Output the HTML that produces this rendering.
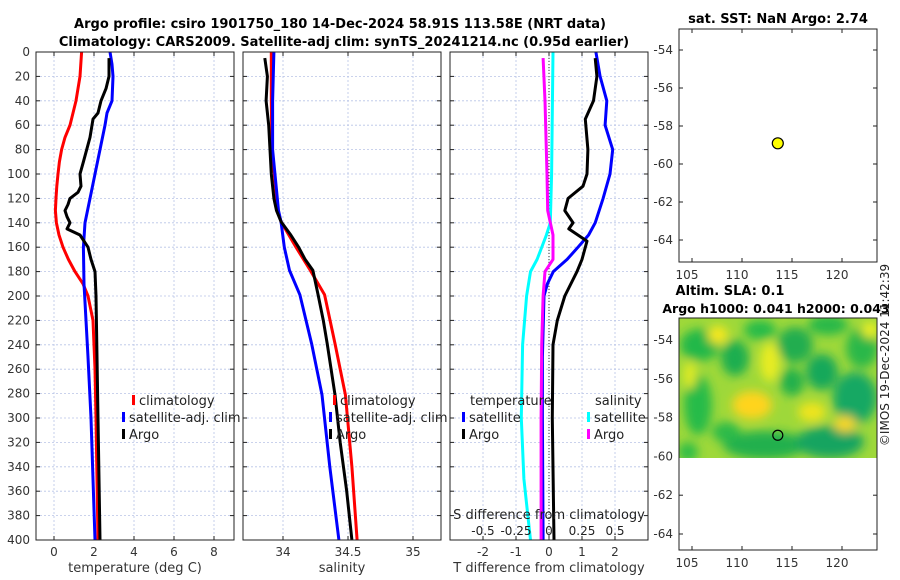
<!DOCTYPE html>
<html><head><meta charset="utf-8">
<style>
html,body{margin:0;padding:0;background:#fff;}
svg{display:block;font-family:"DejaVu Sans","Liberation Sans",sans-serif;}
</style></head>
<body>
<svg id="chart" width="900" height="580" viewBox="0 0 900 580" xmlns="http://www.w3.org/2000/svg">
<defs>
<filter id="blur" x="-20%" y="-20%" width="140%" height="140%"><feGaussianBlur stdDeviation="5"/></filter>
<clipPath id="mapclip"><rect x="679" y="318" width="198" height="140"/></clipPath>
</defs>
<text x="340" y="28" text-anchor="middle" font-size="13" font-weight="bold">Argo profile: csiro 1901750_180 14-Dec-2024 58.91S 113.58E (NRT data)</text>
<text x="344" y="46" text-anchor="middle" font-size="13" font-weight="bold">Climatology: CARS2009. Satellite-adj clim: synTS_20241214.nc (0.95d earlier)</text>
<g id="plots"></g>
<text transform="translate(889,355) rotate(-90)" text-anchor="middle" font-size="12" fill="#222">©IMOS 19-Dec-2024 11:42:39</text>
</svg>
<script>
// ---- data ----
const depthTicks = [0,20,40,60,80,100,120,140,160,180,200,220,240,260,280,300,320,340,360,380,400];
const tempTicks = [0,2,4,6,8];
const salTicks = [34,34.5,35];
const salTickLabels = ["34","34.5","35"];
const tdiffTicks = [-2,-1,0,1,2];
const sdiffTicks = [-0.5,-0.25,0,0.25,0.5];
const sdiffTickLabels = ["-0.5","-0.25","0","0.25","0.5"];
const lonTicks = [105,110,115,120];
const latTicks = [-54,-56,-58,-60,-62,-64];

const tClimDepth = [0,20,40,60,70,80,90,100,110,120,130,140,150,160,170,180,190,200,220,260,300,400];
const tClimVal   = [1.38,1.3,1.1,0.8,0.55,0.38,0.27,0.2,0.14,0.1,0.07,0.12,0.25,0.45,0.72,1.05,1.45,1.7,1.95,2.05,2.1,2.2];
const tSatDepth = [0,10,20,40,50,60,80,100,120,140,160,190,250,300,400];
const tSatVal   = [2.8,2.9,2.95,2.9,2.65,2.55,2.3,2.05,1.8,1.55,1.47,1.5,1.7,1.85,2.05];
const tArgoDepth = [5,20,30,40,50,55,70,90,100,110,115,120,125,130,135,140,145,150,160,170,180,200,250,300,350,400];
const tArgoVal   = [2.75,2.75,2.6,2.35,2.2,1.95,1.8,1.47,1.3,1.35,1.2,0.8,0.7,0.55,0.65,0.8,0.65,1.3,1.7,1.85,2.05,2.1,2.15,2.2,2.25,2.3];

const sClimDepth = [0,40,80,130,139,160,179,199,239,281,340,400];
const sClimVal   = [33.91,33.91,33.915,33.96,33.985,34.10,34.21,34.32,34.40,34.48,34.53,34.57];
const sSatDepth = [0,40,80,130,139,160,179,199,239,281,340,400];
const sSatVal   = [33.93,33.92,33.92,33.965,33.985,34.01,34.05,34.13,34.22,34.30,34.36,34.43];
const sArgoDepth = [5,20,40,60,80,100,120,130,139,150,160,170,179,199,220,239,260,281,320,360,400];
const sArgoVal   = [33.86,33.88,33.87,33.89,33.90,33.91,33.93,33.95,33.985,34.06,34.12,34.17,34.23,34.27,34.31,34.34,34.37,34.40,34.44,34.49,34.53];

const dTSatDepth = [0,20,40,60,80,100,120,140,150,160,170,180,190,200,250,300,400];
const dTSatVal   = [1.42,1.55,1.75,1.7,1.93,1.85,1.64,1.4,1.2,0.88,0.55,0.13,-0.05,-0.15,-0.2,-0.2,-0.18];
const dTArgoDepth = [5,20,40,55,80,100,110,120,130,140,145,155,170,180,200,220,240,300,400];
const dTArgoVal   = [1.4,1.45,1.35,1.1,1.18,1.15,1.03,0.58,0.48,0.73,0.6,1.15,1.0,0.85,0.48,0.25,0.12,0.1,0.15];
const dSSatDepth = [0,100,140,150,170,180,200,240,300,350,400];
const dSSatVal   = [0.03,0.02,0.01,-0.02,-0.09,-0.14,-0.17,-0.2,-0.21,-0.19,-0.14];
const dSArgoDepth = [5,40,100,130,150,170,180,200,240,300,400];
const dSArgoVal   = [-0.045,-0.03,-0.015,-0.01,0.03,0.03,-0.03,-0.045,-0.055,-0.06,-0.06];

const argoLon = [113.58];
const argoLat = [-58.91];

// ---- helpers ----
const NS="http://www.w3.org/2000/svg";
const root=document.getElementById('plots');
function mk(tag,attrs,parent){const e=document.createElementNS(NS,tag);for(const k in attrs)e.setAttribute(k,attrs[k]);(parent||root).appendChild(e);return e;}
const Y0=52, Y1=540;
const yD = d => Y0 + d*(Y1-Y0)/400;

function panel(name,x0,x1,xs,ticks,labels,xlabel){
  const g=mk('g',{});
  
  
  for(const d of depthTicks){
    const l=mk('line',{x1:x0,x2:x1,y1:yD(d),y2:yD(d),stroke:'#b8c4e6','stroke-width':0.8,'stroke-dasharray':'2,2'},g);
    
    
  }
  ticks.forEach((t,i)=>{
    const x=xs(t);
    const l=mk('line',{x1:x,x2:x,y1:Y0,y2:Y1,stroke:'#b8c4e6','stroke-width':0.8,'stroke-dasharray':'2,2'},g);
    
    
    mk('line',{x1:x,x2:x,y1:Y1,y2:Y1-4,stroke:'#222'},g);
    mk('line',{x1:x,x2:x,y1:Y0,y2:Y0+4,stroke:'#222'},g);
    const tx=mk('text',{x:x,y:556,'text-anchor':'middle','font-size':12,fill:'#333'},g);
    tx.textContent=labels[i];
    
    
  });
  for(const d of depthTicks){
    mk('line',{x1:x0,x2:x0+4,y1:yD(d),y2:yD(d),stroke:'#222'},g);
    mk('line',{x1:x1,x2:x1-4,y1:yD(d),y2:yD(d),stroke:'#222'},g);
  }
  const xt=mk('text',{x:(x0+x1)/2,y:572,'text-anchor':'middle','font-size':13,fill:'#333'},g);
  xt.textContent=xlabel;
  
  
  return g;
}
function frame(g,x0,x1){
  const r=mk('rect',{x:x0,y:Y0,width:x1-x0,height:Y1-Y0,fill:'none',stroke:'#222','stroke-width':1},g);
  
  
}
function line(g,name,depths,vals,xs,color,w){
  const pts=depths.map((d,i)=>xs(vals[i]).toFixed(1)+','+yD(d).toFixed(1)).join(' ');
  const p=mk('polyline',{points:pts,fill:'none',stroke:color,'stroke-width':w||3,'stroke-linejoin':'round'},g);
  
  
}
function legend(g,x,y,color,label,name){
  if(color){mk('rect',{x:x,y:y-10,width:3,height:10,fill:color},g);}
  const t=mk('text',{x:x+(color?7:0),y:y,'font-size':13,fill:'#222'},g);
  t.textContent=label;
  
  
}

// ---- panel 1 temperature ----
const xT = v => 54 + v*20;
const g1=panel('temperature-panel',36,234,xT,tempTicks,tempTicks.map(String),'temperature (deg C)');
depthTicks.forEach(d=>{const t=mk('text',{x:30,y:yD(d)+4,'text-anchor':'end','font-size':12,fill:'#333'},g1);t.textContent=d;});
line(g1,'temp-climatology-line',tClimDepth,tClimVal,xT,'#ff0000');
line(g1,'temp-satellite-line',tSatDepth,tSatVal,xT,'#0000ff');
line(g1,'temp-argo-line',tArgoDepth,tArgoVal,xT,'#000000');
legend(g1,132,405,'#ff0000','climatology','legend-climatology');
legend(g1,122,422,'#0000ff','satellite-adj. clim','legend-satellite');
legend(g1,122,439,'#000000','Argo','legend-argo');
frame(g1,36,234);

// ---- panel 2 salinity ----
const xS = v => 283 + (v-34)*130;
const g2=panel('salinity-panel',243,441,xS,salTicks,salTickLabels,'salinity');
line(g2,'sal-climatology-line',sClimDepth,sClimVal,xS,'#ff0000');
line(g2,'sal-satellite-line',sSatDepth,sSatVal,xS,'#0000ff');
line(g2,'sal-argo-line',sArgoDepth,sArgoVal,xS,'#000000');
legend(g2,333,405,'#ff0000','climatology','legend-climatology');
legend(g2,329,422,'#0000ff','satellite-adj. clim','legend-satellite');
legend(g2,329,439,'#000000','Argo','legend-argo');
frame(g2,243,441);

// ---- panel 3 differences ----
const xDT = v => 549 + v*33;
const xDS = v => 549 + v*132;
const g3=panel('difference-panel',450,648,xDT,tdiffTicks,tdiffTicks.map(String),'T difference from climatology');
const dot=mk('line',{x1:xDT(0),x2:xDT(0),y1:Y0,y2:Y1,stroke:'#333','stroke-width':1,'stroke-dasharray':'1,2'},g3);


line(g3,'sdiff-satellite-line',dSSatDepth,dSSatVal,xDS,'#00ffff');
line(g3,'tdiff-satellite-line',dTSatDepth,dTSatVal,xDT,'#0000ff');
line(g3,'sdiff-argo-line',dSArgoDepth,dSArgoVal,xDS,'#ff00ff');
line(g3,'tdiff-argo-line',dTArgoDepth,dTArgoVal,xDT,'#000000');
legend(g3,470,405,null,'temperature','legend-temperature-header');
legend(g3,462,422,'#0000ff','satellite','legend-t-satellite');
legend(g3,462,439,'#000000','Argo','legend-t-argo');
legend(g3,595,405,null,'salinity','legend-salinity-header');
legend(g3,587,422,'#00ffff','satellite','legend-s-satellite');
legend(g3,587,439,'#ff00ff','Argo','legend-s-argo');
const st=mk('text',{x:549,y:519,'text-anchor':'middle','font-size':13,fill:'#222'},g3);
st.textContent='S difference from climatology';


sdiffTicks.forEach((t,i)=>{const tx=mk('text',{x:xDS(t),y:535,'text-anchor':'middle','font-size':12,fill:'#222'},g3);tx.textContent=sdiffTickLabels[i];});
frame(g3,450,648);

// ---- maps ----
const xLon = v => 692 + (v-105)*10;
function mapAxes(name,top,bottom,yLat){
  const g=mk('g',{});
  
  
  lonTicks.forEach(l=>{
    const x=xLon(l);
    mk('line',{x1:x,x2:x,y1:top,y2:top+4,stroke:'#222'},g);
    mk('line',{x1:x,x2:x,y1:bottom,y2:bottom-4,stroke:'#222'},g);
    const t=mk('text',{x:x-5,y:bottom+17,'text-anchor':'middle','font-size':12,fill:'#333'},g);
    t.textContent=l;
    
    
  });
  latTicks.forEach(l=>{
    const y=yLat(l);
    mk('line',{x1:679,x2:683,y1:y,y2:y,stroke:'#222'},g);
    mk('line',{x1:877,x2:873,y1:y,y2:y,stroke:'#222'},g);
    const t=mk('text',{x:673,y:y+4,'text-anchor':'end','font-size':12,fill:'#333'},g);
    t.textContent=l;
    
    
  });
  return g;
}
// top map
const yLatA = v => 50 + (-54 - v)*19;
const gA=mapAxes('sst-map',29,262,yLatA);
const tA=mk('text',{x:778,y:23,'text-anchor':'middle','font-size':13,'font-weight':'bold'},gA);
tA.textContent='sat. SST: NaN  Argo: 2.74';


const cA=mk('circle',{cx:xLon(argoLon[0]),cy:yLatA(argoLat[0]),r:5.5,fill:'#ffff00',stroke:'#000','stroke-width':1.2},gA);


mk('rect',{x:679,y:29,width:198,height:233,fill:'none',stroke:'#222'},gA);

// bottom map
const yLatB = v => 340 + (-54 - v)*19.4;
const gB=mapAxes('sla-map',318,550,yLatB);
const t1=mk('text',{x:730,y:295,'text-anchor':'middle','font-size':13,'font-weight':'bold'},gB);
t1.textContent='Altim. SLA: 0.1';


const t2=mk('text',{x:776,y:313,'text-anchor':'middle','font-size':12.5,'font-weight':'bold'},gB);
t2.textContent='Argo h1000: 0.041  h2000: 0.043';


const hm=mk('g',{'clip-path':'url(#mapclip)'},gB);


mk('rect',{x:679,y:318,width:198,height:140,fill:'#9ed83a'},hm);
const blobs=mk('g',{filter:'url(#blur)'},hm);
const greens=[[700,345,20,16,'#22b84a'],[735,358,14,18,'#1fae50'],[760,330,16,10,'#28bb48'],[795,345,18,18,'#21ad50'],[828,325,20,10,'#26b84a'],[862,348,16,20,'#2ab848'],[822,372,16,18,'#18a85a'],[855,398,22,26,'#14a864'],[698,405,14,30,'#26bb48'],[792,382,12,14,'#22b04c'],[765,445,42,14,'#22b04e'],[830,442,34,16,'#16a460'],[688,452,10,10,'#2dbd46'],[726,432,14,10,'#2aba48']];
greens.forEach(b=>mk('ellipse',{cx:b[0],cy:b[1],rx:b[2],ry:b[3],fill:b[4]},blobs));
const yellows=[[752,405,20,14,'#ffd41c'],[718,335,10,9,'#f8e81a'],[812,412,14,10,'#eee41c'],[845,424,11,8,'#fbd820'],[870,330,8,8,'#eef020'],[770,362,10,20,'#e8ec22'],[690,375,6,14,'#e4ec22']];
yellows.forEach(b=>mk('ellipse',{cx:b[0],cy:b[1],rx:b[2],ry:b[3],fill:b[4]},blobs));
const cB=mk('circle',{cx:xLon(argoLon[0]),cy:yLatB(argoLat[0]),r:5,fill:'none',stroke:'#000','stroke-width':1.2},gB);


mk('rect',{x:679,y:318,width:198,height:232,fill:'none',stroke:'#222'},gB);
</script>
</body></html>
